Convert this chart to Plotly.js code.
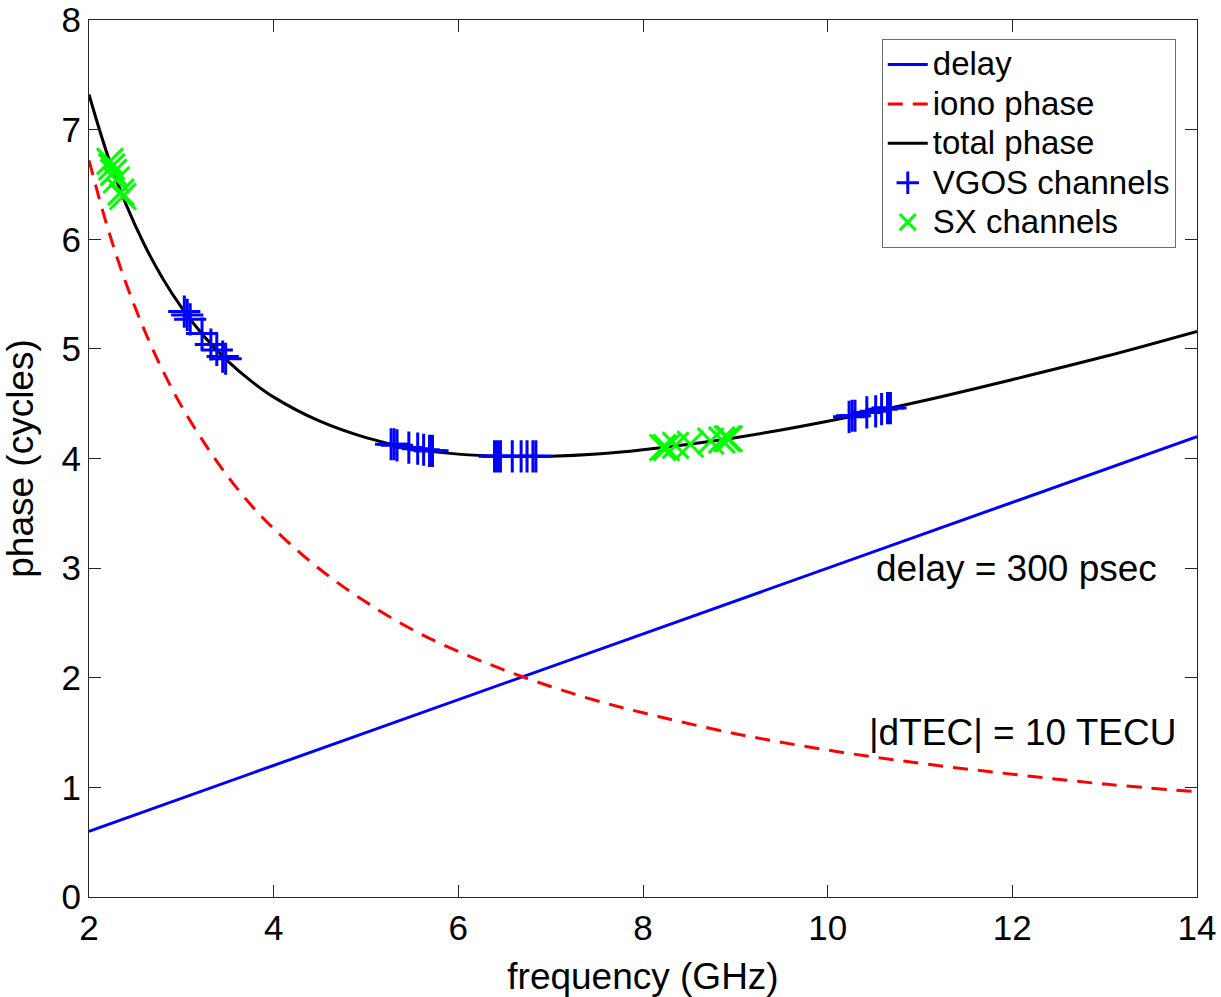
<!DOCTYPE html>
<html>
<head>
<meta charset="utf-8">
<script src="https://cdn.plot.ly/plotly-3.0.1.min.js"></script>
<style>html,body{margin:0;padding:0;background:#fff;}#chart{width:1221px;height:997px;}</style>
</head>
<body>
<div id="chart"></div>
<script>
// ---- data ----
const delayFreq = [2, 14];
const delayPhase = [0.60, 4.20];

const curveFreq = [2, 2.2, 2.4, 2.6, 2.8, 3, 3.25, 3.5, 3.75, 4, 4.5, 5, 5.5, 6, 6.5, 7, 7.5, 8, 9, 10, 11, 12, 13, 14];
const ionoPhase = [6.72, 6.11, 5.60, 5.17, 4.80, 4.48, 4.14, 3.84, 3.58, 3.36, 2.99, 2.69, 2.44, 2.24, 2.07, 1.92, 1.79, 1.68, 1.49, 1.34, 1.22, 1.12, 1.03, 0.96];
const totalPhase = [7.32, 6.77, 6.32, 5.95, 5.64, 5.38, 5.11, 4.89, 4.71, 4.56, 4.34, 4.19, 4.09, 4.04, 4.02, 4.02, 4.04, 4.08, 4.19, 4.34, 4.52, 4.72, 4.93, 5.16];

const vgosFreq = [3.032, 3.064, 3.096, 3.224, 3.320, 3.384, 3.448, 3.480,
                  5.272, 5.304, 5.336, 5.464, 5.560, 5.624, 5.688, 5.720,
                  6.392, 6.424, 6.456, 6.584, 6.680, 6.744, 6.808, 6.840,
                  10.232, 10.264, 10.296, 10.424, 10.520, 10.584, 10.648, 10.680];
const vgosPhase = [5.34, 5.31, 5.27, 5.14, 5.04, 4.99, 4.93, 4.91,
                   4.13, 4.13, 4.12, 4.10, 4.09, 4.08, 4.07, 4.07,
                   4.02, 4.02, 4.02, 4.02, 4.02, 4.02, 4.02, 4.02,
                   4.38, 4.39, 4.39, 4.42, 4.43, 4.45, 4.46, 4.46];

const sxFreq = [2.226, 2.246, 2.266, 2.296, 2.346, 2.366,
                8.213, 8.253, 8.353, 8.513, 8.733, 8.853, 8.913, 8.933];
const sxPhase = [6.71, 6.66, 6.61, 6.54, 6.43, 6.39,
                 4.10, 4.10, 4.12, 4.13, 4.16, 4.17, 4.18, 4.18];

const xTicks = [2, 4, 6, 8, 10, 12, 14];
const yTicks = [0, 1, 2, 3, 4, 5, 6, 7, 8];

const labels = {
  delay: 'delay', iono: 'iono phase', total: 'total phase',
  vgos: 'VGOS channels', sx: 'SX channels',
  xTitle: 'frequency (GHz)', yTitle: 'phase (cycles)',
  delayNote: 'delay = 300 psec', tecNote: '|dTEC| = 10 TECU'
};

// ---- chart ----
const FONT = 'Liberation Sans, Arial, Helvetica, sans-serif';
const AX = 'rgb(38,38,38)';
const leg = s => '<span style="font-size:33px">' + s + '</span>';

const traces = [
  {x: delayFreq, y: delayPhase, mode: 'lines', name: leg(labels.delay),
   line: {color: '#0000ff', width: 3}},
  {x: curveFreq, y: ionoPhase, mode: 'lines', name: leg(labels.iono),
   line: {color: '#ff0000', width: 3, dash: '15px,10px', shape: 'spline'}},
  {x: curveFreq, y: totalPhase, mode: 'lines', name: leg(labels.total),
   line: {color: '#000000', width: 3, shape: 'spline'}},
  {x: vgosFreq, y: vgosPhase, mode: 'markers', name: leg(labels.vgos),
   marker: {symbol: 'cross-thin-open', size: 23, color: '#0000ff', line: {color: '#0000ff', width: 3}}},
  {x: sxFreq, y: sxPhase, mode: 'markers', name: leg(labels.sx),
   marker: {symbol: 'x-thin-open', size: 26, color: '#00ff00', line: {color: '#00ff00', width: 3}}}
];

const layout = {
  width: 1221, height: 997,
  margin: {l: 89, r: 24, t: 20, b: 100, pad: 0},
  paper_bgcolor: '#ffffff', plot_bgcolor: '#ffffff',
  font: {family: FONT, color: '#000000', size: 33},
  showlegend: true,
  xaxis: {
    range: [2, 14], tickvals: xTicks, ticktext: xTicks.map(String),
    ticks: 'inside', ticklen: 12, tickwidth: 1, tickcolor: AX,
    showline: true, linecolor: AX, linewidth: 1, mirror: 'ticks',
    showgrid: false, zeroline: false,
    tickfont: {family: FONT, size: 35, color: '#000'},
    title: {text: labels.xTitle, font: {family: FONT, size: 37, color: '#000'}}
  },
  yaxis: {
    range: [0, 8], tickvals: yTicks, ticktext: yTicks.map(String),
    ticks: 'inside', ticklen: 12, tickwidth: 1, tickcolor: AX,
    showline: true, linecolor: AX, linewidth: 1, mirror: 'ticks',
    showgrid: false, zeroline: false,
    tickfont: {family: FONT, size: 35, color: '#000'},
    title: {text: labels.yTitle, font: {family: FONT, size: 37, color: '#000'}}
  },
  legend: {
    x: 0.7155, y: 0.9785, xanchor: 'left', yanchor: 'top',
    bgcolor: '#ffffff', bordercolor: 'rgb(110,110,110)', borderwidth: 1,
    font: {family: FONT, size: 28, color: '#000'},
    itemwidth: 40, tracegroupgap: 0
  },
  annotations: [
    {x: 10.5, y: 3.0, xref: 'x', yref: 'y', text: labels.delayNote, showarrow: false,
     xanchor: 'left', yanchor: 'middle', font: {family: FONT, size: 37, color: '#000'}},
    {x: 10.43, y: 1.5, xref: 'x', yref: 'y', text: labels.tecNote, showarrow: false,
     xanchor: 'left', yanchor: 'middle', font: {family: FONT, size: 37, color: '#000'}}
  ]
};

Plotly.newPlot('chart', traces, layout, {displayModeBar: false, staticPlot: true});
</script>
</body>
</html>
